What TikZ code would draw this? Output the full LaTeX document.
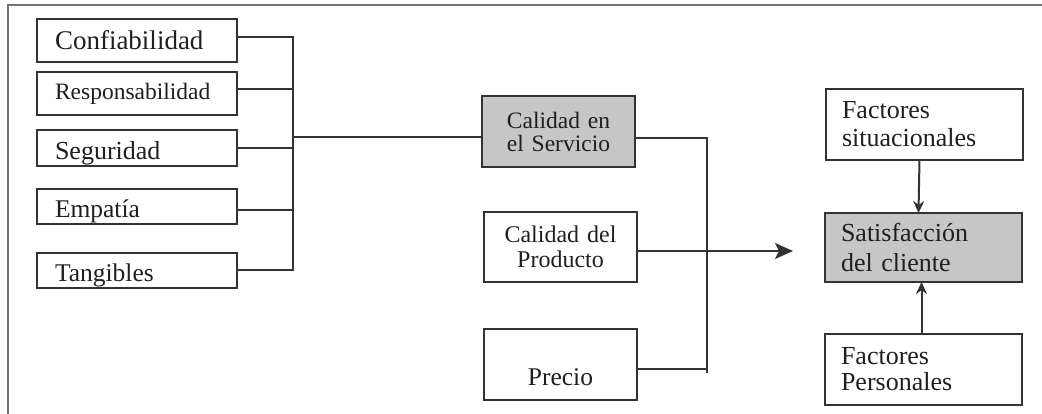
\documentclass[tikz,border=0pt]{standalone}
\usepackage{fontspec}
\setmainfont{Liberation Serif}
\usetikzlibrary{arrows.meta,calc}
\newcommand{\fsz}[2]{\fontsize{#1}{#2}\selectfont}
\definecolor{boxline}{HTML}{333333}
\definecolor{boxfill}{HTML}{C6C6C6}
\tikzset{
	model diagram/.style={
		x=1pt, y=-1pt,
		every node/.style={draw=boxline, line width=2.2pt, outer sep=0pt,
			anchor=north west, inner ysep=0pt, text=black!88},
		wire/.style={draw=boxline, line width=2pt},
		ar/.style={wire, -{Stealth[length=12pt,width=11pt]}},
		big ar/.style={wire, -{Stealth[length=18pt,width=16pt,inset=4pt]}},
		frame/.style={draw=black!55, line width=1.6pt}
		},
	dim box/.style 2 args={text width=164pt, inner xsep=18pt, align=left,
		text height=#1, text depth=#2},
	mid box/.style={text width=141pt, inner xsep=6pt, align=center,
		minimum height=71pt},
	side box/.style={text width=165pt, inner xsep=16pt, align=left,
		minimum height=71pt},
	shaded/.style={fill=boxfill}
}

\begin{document}
\begin{tikzpicture}[model diagram]
	\useasboundingbox (0,0) rectangle (1042,414);
	\draw[frame] (1042,5) -- (8,5) -- (8,414);
	% dimensiones
	\node[dim box={31pt}{12pt}, font=\fsz{27}{27}] (conf) at (37,19) {Confiabilidad};
	\node[dim box={28pt}{15pt}, font=\fsz{23.5}{24}] (resp) at (37,72) {Responsabilidad};
	\node[dim box={30pt}{6pt}, font=\fsz{26}{26}] (seg) at (37,130) {Seguridad};
	\node[dim box={29pt}{6pt}, font=\fsz{25.5}{26}] (emp) at (37,189) {Empatía};
	\node[dim box={29pt}{6pt}, font=\fsz{25.5}{26}] (tang) at (37,253) {Tangibles};
	% factores centrales
	\node[mid box, shaded, font=\fsz{23.5}{23}] (serv) at (482,96) {Calidad en\\el Servicio};
	\node[mid box, minimum height=70pt, font=\fsz{24}{25}] (prod) at (484,212) {Calidad del\\Producto};
	\node[mid box, text height=56pt, text depth=15pt, font=\fsz{25.5}{26}] (precio) at (484,329) {Precio};
	% satisfaccion
	\node[side box, font=\fsz{26}{28}] (sit) at (826,89) {Factores\\situacionales};
	\node[side box, shaded, minimum height=69pt, font=\fsz{26}{30}] (satis) at (825,213) {Satisfacción\\del cliente};
	\node[side box, font=\fsz{26}{26}] (pers) at (825,334) {Factores\\Personales};
	% conexiones
	\coordinate (bus) at (293,137);
	\coordinate (jn) at (707,373);
	\coordinate (tip) at (793,252);
	\draw[wire] ([yshift=3pt]conf.east) -| (bus);
	\draw[wire] ([yshift=4pt]resp.east) -| (bus);
	\draw[wire] (seg.east) -| (bus);
	\draw[wire] ([yshift=-4pt]emp.east) -| (bus);
	\draw[wire] (tang.east) -| (bus);
	\draw[wire] (bus) -- (bus -| serv.west);
	\draw[wire] ([yshift=-7pt]serv.east) -| (jn);
	\draw[wire] ([yshift=-4pt]precio.east) -- ([yshift=-4pt]precio.east -| jn);
	\draw[big ar] ([yshift=-4pt]prod.east) -- ([yshift=-4pt]prod.east -| tip);
	\draw[ar] ([xshift=-5pt]sit.south) -- ([xshift=-5pt]satis.north);
	\draw[ar] ([xshift=-2pt]pers.north) -- ([xshift=-2pt]satis.south);
\end{tikzpicture}
\end{document}
